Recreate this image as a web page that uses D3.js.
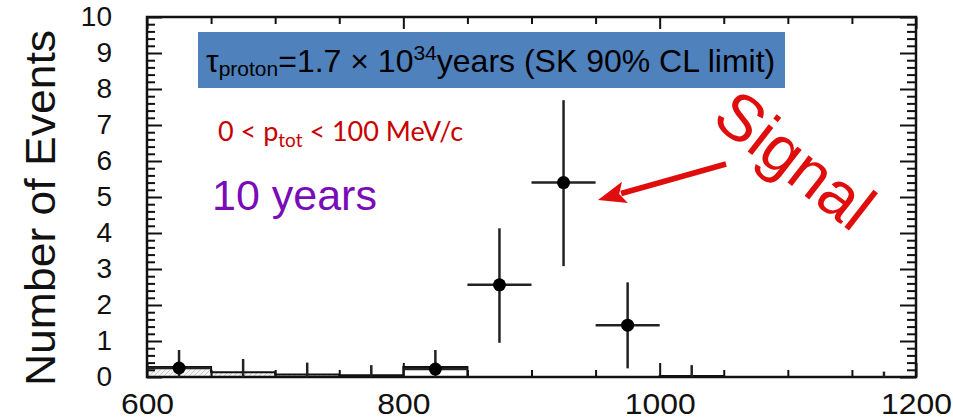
<!DOCTYPE html>
<html>
<head>
<meta charset="utf-8">
<script src="https://cdn.jsdelivr.net/npm/d3@7"></script>
<style>
  html, body { margin: 0; padding: 0; background: #fff; overflow: hidden; }
  svg { display: block; }
</style>
</head>
<body>
<svg id="chart" width="953" height="419"></svg>
<script>
// ---- data ----
// observed events per 50 MeV/c^2 bin (bin centres, counts, asymmetric errors)
const obsCenters = [625, 825, 875, 925, 975];
const obsCounts  = [0.25, 0.22, 2.56, 5.40, 1.44];
const obsErrLow  = [0.25, 0.22, 1.61, 2.32, 1.20];
const obsErrHigh = [0.50, 0.53, 1.57, 2.29, 1.19];
const binHalfWidth = 25;

// empty bins: only an upper error is shown
const emptyCenters = [675, 725, 775, 1025, 1175];
const emptyErrHigh = [0.50, 0.40, 0.33, 0.33, 0.15];

// expected background (outline) and its hatched component
const binLowEdges = [600, 650, 700, 750, 800, 850, 900, 950, 1000, 1050, 1100, 1150];
const bkgTotal    = [0.28, 0.13, 0.07, 0.05, 0.28, 0, 0, 0, 0.03, 0, 0, 0];
const bkgHatched  = [0.28, 0.13, 0.07, 0.05, 0, 0, 0, 0, 0.03, 0, 0, 0];

const xMajorTicks = [600, 800, 1000, 1200];
const xMinorTicks = [650, 700, 750, 850, 900, 950, 1050, 1100, 1150];
const yMajorTicks = [0, 1, 2, 3, 4, 5, 6, 7, 8, 9, 10];

// ---- layout ----
const plot = { left: 147, right: 916, top: 17, bottom: 377 };
const x = d3.scaleLinear().domain([600, 1200]).range([plot.left, plot.right]);
const y = d3.scaleLinear().domain([0, 10]).range([plot.bottom, plot.top]);

const svg = d3.select("#chart");
const FONT = "'Liberation Sans', Arial, Helvetica, sans-serif";

// light dotted hatch for the background component
const defs = svg.append("defs");
const pat = defs.append("pattern")
  .attr("id", "hatch").attr("patternUnits", "userSpaceOnUse")
  .attr("width", 5).attr("height", 5);
pat.append("rect").attr("width", 5).attr("height", 5).attr("fill", "#f4f4f4");
pat.append("path").attr("d", "M0,5 L5,0")
  .attr("stroke", "#c8c8c8").attr("stroke-width", 1);

// ---- histograms ----
const hist = svg.append("g");
binLowEdges.forEach((lo, i) => {
  if (bkgHatched[i] > 0) {
    hist.append("rect")
      .attr("x", x(lo)).attr("width", x(lo + 2 * binHalfWidth) - x(lo))
      .attr("y", y(bkgHatched[i])).attr("height", y(0) - y(bkgHatched[i]))
      .attr("fill", "url(#hatch)");
  }
});
// outline as a step path
const stepPts = [[binLowEdges[0], 0]];
binLowEdges.forEach((lo, i) => {
  stepPts.push([lo, bkgTotal[i]]);
  stepPts.push([lo + 2 * binHalfWidth, bkgTotal[i]]);
});
stepPts.push([1200, 0]);
hist.append("path")
  .attr("d", d3.line().x(d => x(d[0])).y(d => y(d[1]))(stepPts))
  .attr("fill", "none").attr("stroke", "#111").attr("stroke-width", 2);

// ---- axes (ticks point inward) ----
const axes = svg.append("g").attr("font-family", FONT);

function styleAxis(g) {
  g.select(".domain").remove();
  g.selectAll(".tick line").attr("stroke", "#111").attr("stroke-width", 2);
}

// bottom
axes.append("g").attr("transform", `translate(0,${plot.bottom})`)
  .call(d3.axisBottom(x).tickValues(xMajorTicks).tickSizeInner(-14).tickPadding(16)
        .tickFormat(d3.format("d")))
  .call(styleAxis)
  .call(g => g.selectAll("text").attr("font-size", 29).attr("fill", "#111")
        .attr("dy", "0.71em").attr("transform", "scale(1.1,1)"));
axes.append("g").attr("transform", `translate(0,${plot.bottom})`)
  .call(d3.axisBottom(x).tickValues(xMinorTicks).tickSizeInner(-7).tickFormat(""))
  .call(styleAxis);
// top
axes.append("g").attr("transform", `translate(0,${plot.top})`)
  .call(d3.axisTop(x).tickValues(xMajorTicks).tickSizeInner(-12).tickFormat(""))
  .call(styleAxis);
axes.append("g").attr("transform", `translate(0,${plot.top})`)
  .call(d3.axisTop(x).tickValues(xMinorTicks).tickSizeInner(-7).tickFormat(""))
  .call(styleAxis);

// y minor tick values: five subdivisions per unit
const yMinorTicks = [];
yMajorTicks.slice(0, -1).forEach(v => [0.2, 0.4, 0.6, 0.8].forEach(f => yMinorTicks.push(+(v + f).toFixed(1))));

// left
axes.append("g").attr("transform", `translate(${plot.left},0)`)
  .call(d3.axisLeft(y).tickValues(yMajorTicks).tickSizeInner(-15).tickPadding(35)
        .tickFormat(d3.format("d")))
  .call(styleAxis)
  .call(g => g.selectAll("text").attr("font-size", 28).attr("fill", "#111"));
axes.append("g").attr("transform", `translate(${plot.left},0)`)
  .call(d3.axisLeft(y).tickValues(yMinorTicks).tickSizeInner(-8).tickFormat(""))
  .call(styleAxis);
// right
axes.append("g").attr("transform", `translate(${plot.right},0)`)
  .call(d3.axisRight(y).tickValues(yMajorTicks).tickSizeInner(-16).tickFormat(""))
  .call(styleAxis);
axes.append("g").attr("transform", `translate(${plot.right},0)`)
  .call(d3.axisRight(y).tickValues(yMinorTicks).tickSizeInner(-9).tickFormat(""))
  .call(styleAxis);

// frame
svg.append("rect")
  .attr("x", plot.left).attr("y", plot.top)
  .attr("width", plot.right - plot.left).attr("height", plot.bottom - plot.top)
  .attr("fill", "none").attr("stroke", "#111").attr("stroke-width", 2.5);

// y title
svg.append("text")
  .attr("transform", `translate(55,${(30 + 386) / 2}) rotate(-90)`)
  .attr("text-anchor", "middle")
  .attr("font-family", FONT).attr("font-size", 42).attr("fill", "#111")
  .attr("textLength", 356).attr("lengthAdjust", "spacingAndGlyphs")
  .text("Number of Events");

// ---- observed points with error bars ----
const pts = svg.append("g").attr("stroke", "#222").attr("stroke-width", 2.5);
emptyCenters.forEach((c, i) => {
  pts.append("line")
    .attr("x1", x(c)).attr("x2", x(c))
    .attr("y1", y(0)).attr("y2", y(emptyErrHigh[i]));
});
obsCenters.forEach((c, i) => {
  const v = obsCounts[i];
  pts.append("line")
    .attr("x1", x(c)).attr("x2", x(c))
    .attr("y1", y(v - obsErrLow[i])).attr("y2", y(v + obsErrHigh[i]));
  pts.append("line")
    .attr("x1", x(c - binHalfWidth)).attr("x2", x(c + binHalfWidth))
    .attr("y1", y(v)).attr("y2", y(v));
});
svg.append("g").selectAll("circle")
  .data(obsCenters)
  .join("circle")
  .attr("cx", d => x(d))
  .attr("cy", (d, i) => y(obsCounts[i]))
  .attr("r", 6.5)
  .attr("fill", "#000");

// ---- annotations ----
// lifetime box
const box = svg.append("g");
box.append("rect")
  .attr("x", 198).attr("y", 32).attr("width", 587).attr("height", 56)
  .attr("fill", "#4f81bd");
const boxText = box.append("text")
  .attr("x", 206).attr("y", 72)
  .attr("font-family", FONT).attr("font-size", 32).attr("fill", "#000");
boxText.append("tspan").text("τ");
boxText.append("tspan").attr("font-size", 21).attr("dy", 4).text("proton");
boxText.append("tspan").attr("dy", -4).text("=1.7 × 10");
boxText.append("tspan").attr("font-size", 21).attr("dy", -12).text("34");
boxText.append("tspan").attr("dy", 12).text("years (SK 90% CL limit)");

// momentum cut
const cut = svg.append("text")
  .attr("x", 218).attr("y", 141)
  .attr("font-family", "Lato, 'Open Sans', sans-serif").attr("font-size", 27)
  .attr("fill", "#c80000");
cut.append("tspan").text("0 < p");
cut.append("tspan").attr("font-size", 19).attr("dy", 6).text("tot");
cut.append("tspan").attr("dy", -6).text(" < 100 MeV/c");

// exposure
svg.append("text")
  .attr("x", 212).attr("y", 210)
  .attr("font-family", FONT).attr("font-size", 43)
  .attr("fill", "#7a0cb8")
  .text("10 years");

// signal label and arrow
const red = "#e00d0d";
svg.append("text")
  .attr("transform", "translate(710,122) rotate(38)")
  .attr("font-family", FONT).attr("font-size", 65)
  .attr("fill", red)
  .text("Signal");
const tail = [726, 164], tip = [598, 200];
const ang = Math.atan2(tip[1] - tail[1], tip[0] - tail[0]);
const headLen = 28, headW = 11;
const base = [tip[0] - headLen * Math.cos(ang), tip[1] - headLen * Math.sin(ang)];
svg.append("line")
  .attr("x1", tail[0]).attr("y1", tail[1])
  .attr("x2", base[0] + 4 * Math.cos(ang)).attr("y2", base[1] + 4 * Math.sin(ang))
  .attr("stroke", red).attr("stroke-width", 5.5);
svg.append("path")
  .attr("d", `M${tip[0]},${tip[1]}
    L${base[0] + headW * Math.sin(ang)},${base[1] - headW * Math.cos(ang)}
    L${base[0] + 6 * Math.cos(ang)},${base[1] + 6 * Math.sin(ang)}
    L${base[0] - headW * Math.sin(ang)},${base[1] + headW * Math.cos(ang)}Z`)
  .attr("fill", red);
</script>
</body>
</html>
